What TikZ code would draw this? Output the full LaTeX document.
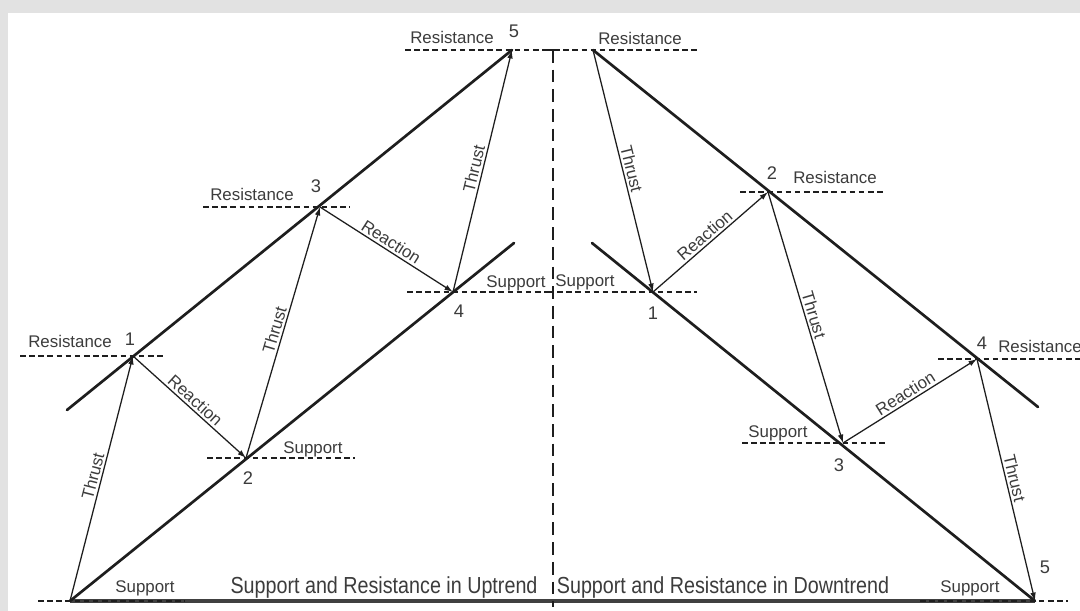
\documentclass[tikz,border=0pt]{standalone}
\usepackage{fontspec}
\setmainfont{Liberation Sans}
\newfontfamily\titlefont[FakeStretch=0.85]{Liberation Sans}
\usetikzlibrary{arrows.meta,calc}
\definecolor{txt}{HTML}{3C3C3C}
\definecolor{ink}{HTML}{1E1E1E}
\definecolor{frame}{HTML}{E2E2E2}
\begin{document}
\begin{tikzpicture}[x=0.025cm,y=-0.025cm,
    channel/.style={ink,line width=1.9pt,line cap=round},
    move/.style={ink,line width=0.9pt,-{Latex[length=6pt,width=4pt]}},
    level/.style={ink,line width=1pt,dash pattern=on 4pt off 2.5pt},
    lbl/.style={txt,font=\fontsize{12}{14}\selectfont,inner sep=1.5pt},
    num/.style={txt,font=\fontsize{13}{15}\selectfont,inner sep=1pt},
    title/.style={txt,font=\titlefont\fontsize{16.5}{19}\selectfont,inner sep=1pt}]
  \useasboundingbox (0,0) rectangle (1080,611);
  \fill[frame] (0,0) rectangle (1080,611);
  \fill[white] (8,13) rectangle (1080,611);

  % uptrend pivots
  \coordinate (u0) at (70,601);
  \coordinate (u1) at (133,356);
  \coordinate (u2) at (246,458);
  \coordinate (u3) at (320,207);
  \coordinate (u4) at (453,292);
  \coordinate (u5) at (512,50);
  \coordinate (ut) at (67,410);
  \coordinate (ub) at (514,243);
  % downtrend pivots
  \coordinate (d0) at (593,50);
  \coordinate (d1) at (653,292);
  \coordinate (d2) at (768,192);
  \coordinate (d3) at (843,443);
  \coordinate (d4) at (977,359);
  \coordinate (d5) at (1035,601);
  \coordinate (dt) at (1038,407);
  \coordinate (db) at (592,243);
  \coordinate (mtop) at (553,50);
  \coordinate (mbot) at (553,607);

  \draw[ink!85,line width=2.2pt] (u0) -- (d5);
  \draw[ink,line width=1pt,dash pattern=on 9pt off 5pt] (mtop) -- (mbot);

  \draw[level] ($(u0)+(-32,0)$) -- ($(u0)+(115,0)$);
  \draw[level] ($(u1)+(-113,0)$) -- ($(u1)+(32,0)$);
  \draw[level] ($(u2)+(-39,0)$) -- ($(u2)+(109,0)$);
  \draw[level] ($(u3)+(-117,0)$) -- ($(u3)+(30,0)$);
  \draw[level] ($(u4)+(-46,0)$) -- ($(u4)+(95,0)$);
  \draw[level] ($(u5)+(-107,0)$) -- ($(u5)+(46,0)$);
  \draw[level] ($(d0)+(-48,0)$) -- ($(d0)+(107,0)$);
  \draw[level] ($(d1)+(-105,0)$) -- ($(d1)+(44,0)$);
  \draw[level] ($(d2)+(-28,0)$) -- ($(d2)+(117,0)$);
  \draw[level] ($(d3)+(-101,0)$) -- ($(d3)+(45,0)$);
  \draw[level] ($(d4)+(-39,0)$) -- ($(d4)+(103,0)$);
  \draw[level] ($(d5)+(-115,0)$) -- ($(d5)+(33,0)$);

  \draw[channel] (ut) -- (u5);
  \draw[channel] (u0) -- (ub);
  \draw[channel] (d0) -- (dt);
  \draw[channel] (db) -- (d5);

  \draw[move] (u0) -- node[lbl,above,sloped] (ut1) {Thrust} (u1);
  \draw[move] (u1) -- node[lbl,above,sloped] (ur1) {Reaction} (u2);
  \draw[move] (u2) -- node[lbl,above,sloped] (ut2) {Thrust} (u3);
  \draw[move] (u3) -- node[lbl,above,sloped] (ur2) {Reaction} (u4);
  \draw[move] (u4) -- node[lbl,above,sloped] (ut3) {Thrust} (u5);
  \draw[move] (d0) -- node[lbl,above,sloped] (dt1) {Thrust} (d1);
  \draw[move] (d1) -- node[lbl,above,sloped] (dr1) {Reaction} (d2);
  \draw[move] (d2) -- node[lbl,above,sloped] (dt2) {Thrust} (d3);
  \draw[move] (d3) -- node[lbl,above,sloped] (dr2) {Reaction} (d4);
  \draw[move] (d4) -- node[lbl,above,sloped] (dt3) {Thrust} (d5);

  \node[lbl] (us0) at (145,588) {Support};
  \node[lbl] (ur1l) at (70,341) {Resistance};
  \node[num] (un1) at (130,339) {1};
  \node[lbl] (us2) at (313,449) {Support};
  \node[num] (un2) at (248,478) {2};
  \node[lbl] (ur3) at (252,194) {Resistance};
  \node[num] (un3) at (316,186) {3};
  \node[lbl] (us4) at (516,283) {Support};
  \node[num] (un4) at (459,311) {4};
  \node[lbl] (ur5) at (452,37) {Resistance};
  \node[num] (un5) at (514,31) {5};

  \node[lbl] (dr0) at (640,38) {Resistance};
  \node[lbl] (ds1) at (585,282) {Support};
  \node[num] (dn1) at (653,313) {1};
  \node[num] (dn2) at (772,173) {2};
  \node[lbl] (dr2l) at (835,177) {Resistance};
  \node[lbl] (ds3) at (778,433) {Support};
  \node[num] (dn3) at (839,465) {3};
  \node[num] (dn4) at (982,343) {4};
  \node[lbl] (dr4) at (1040,346) {Resistance};
  \node[num] (dn5) at (1045,567) {5};
  \node[lbl] (ds5) at (970,588) {Support};

  \node[title] (uptitle) at (384,587) {Support and Resistance in Uptrend};
  \node[title] (downtitle) at (723,587) {Support and Resistance in Downtrend};
\end{tikzpicture}
\end{document}
